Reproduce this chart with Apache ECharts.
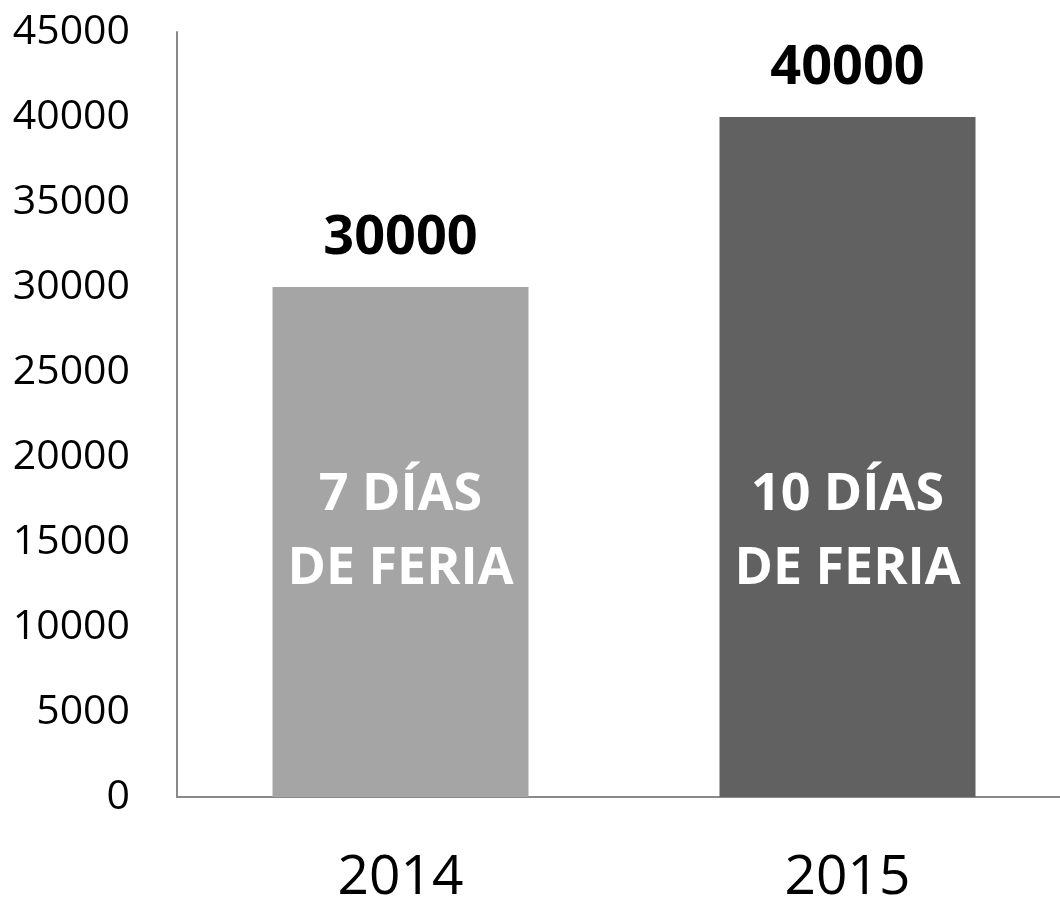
<!DOCTYPE html>
<html>
<head>
<meta charset="utf-8">
<script src="https://cdn.jsdelivr.net/npm/echarts@6/dist/echarts.min.js"></script>
<style>
html,body{margin:0;padding:0;background:#fff;}
#chart{width:1060px;height:901px;}
</style>
</head>
<body>
<div id="chart"></div>
<script>
const categories = ['2014', '2015'];
const values = [30000, 40000];
const innerLabels = ['7 DÍAS\nDE FERIA', '10 DÍAS\nDE FERIA'];
const barColors = ['#A5A5A5', '#616161'];
const yTicks = { min: 0, max: 45000, interval: 5000 };

const FONT = '"Open Sans", "Noto Sans", sans-serif';
const chart = echarts.init(document.getElementById('chart'));

const data = values.map((v, i) => ({
  value: v,
  itemStyle: { color: barColors[i] }
}));

chart.setOption({
  animation: false,
  backgroundColor: '#ffffff',
  grid: { left: 177, top: 32, bottom: 104, right: -11, containLabel: false, outerBoundsMode: 'none' },
  xAxis: {
    type: 'category',
    data: categories,
    axisLine: { show: true, lineStyle: { color: '#898989', width: 2 } },
    axisTick: { show: false },
    axisLabel: { fontFamily: FONT, fontSize: 55, color: '#000', margin: 54, lineHeight: 55 }
  },
  yAxis: {
    type: 'value',
    min: yTicks.min, max: yTicks.max, interval: yTicks.interval,
    axisLine: { show: true, lineStyle: { color: '#898989', width: 2 } },
    axisTick: { show: false },
    splitLine: { show: false },
    axisLabel: { fontFamily: FONT, fontSize: 41, color: '#000', margin: 47, formatter: v => String(v) }
  },
  series: [
    {
      type: 'bar',
      data: data,
      barWidth: 256,
      label: {
        show: true,
        position: 'top',
        distance: 21,
        fontFamily: FONT,
        fontWeight: 'bold',
        fontSize: 54,
        lineHeight: 54,
        color: '#000'
      }
    },
    {
      type: 'bar',
      data: values,
      barWidth: 256,
      barGap: '-100%',
      itemStyle: { color: 'transparent' },
      silent: true,
      label: {
        show: true,
        position: 'insideBottom',
        distance: 191,
        fontFamily: FONT,
        fontWeight: 'bold',
        fontSize: 52,
        lineHeight: 74,
        color: '#fff',
        align: 'center',
        formatter: p => innerLabels[p.dataIndex]
      }
    }
  ]
});
</script>
</body>
</html>
